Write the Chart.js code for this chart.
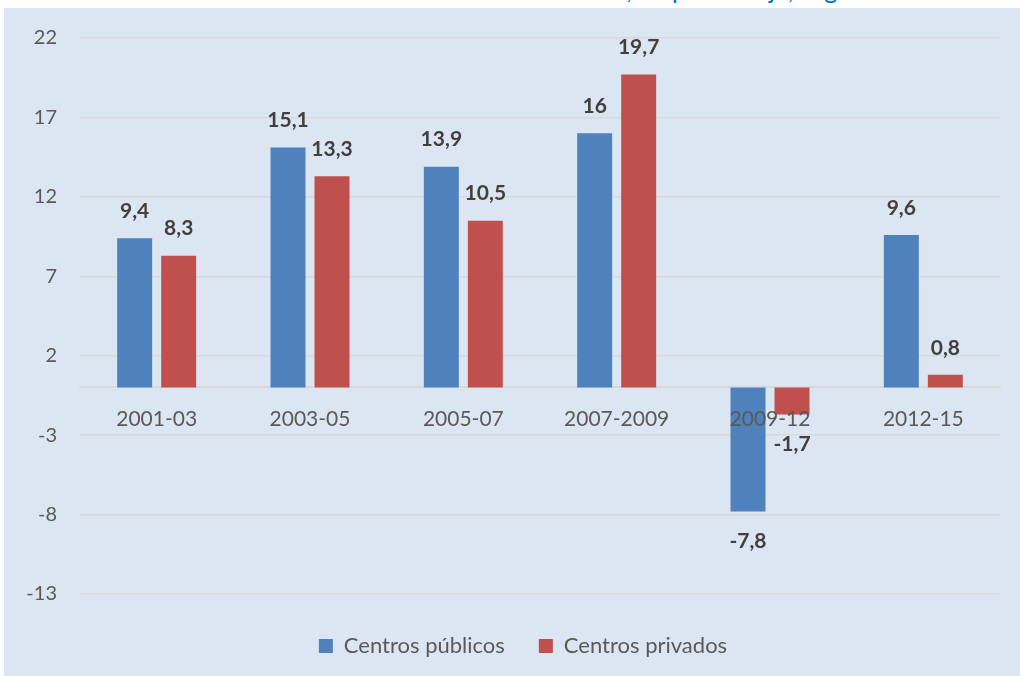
<!DOCTYPE html>
<html>
<head>
<meta charset="utf-8">
<script src="https://cdn.jsdelivr.net/npm/chart.js@4"></script>
<style>
  body { margin: 0; background: #ffffff; width: 1020px; height: 676px; overflow: hidden; position: relative; }
  #title { position: absolute; left: 0; top: 0; width: 1020px; height: 8px; overflow: hidden; }
  #title span { position: absolute; left: 2px; top: -24px; white-space: nowrap; font-family: Lato, "Open Sans", sans-serif; font-size: 25px; color: #0070C0; line-height: 26px; }
  #panel { position: absolute; left: 4px; top: 8px; width: 1016px; height: 668px; background: #DCE6F2; overflow: hidden; }
  #chart { position: absolute; left: 0; top: -5px; }
</style>
</head>
<body>
<div id="title"><span>Tasa de crecimiento del número de alumnos matriculados, en porcentaje, según titularidad del centro</span></div>
<div id="panel"><canvas id="chart" width="1016" height="657"></canvas></div>
<script>
// data
const periods = ['2001-03', '2003-05', '2005-07', '2007-2009', '2009-12', '2012-15'];
const publicos = [9.4, 15.1, 13.9, 16, -7.8, 9.6];
const privados = [8.3, 13.3, 10.5, 19.7, -1.7, 0.8];
const yMin = -13;
const yMax = 22;
const yStep = 5;

const FONT = 'Lato, "Open Sans", sans-serif';

// draw value labels above (or below) each bar, comma as decimal mark
const barLabels = {
    id: 'barLabels',
    afterDatasetsDraw(chart) {
        const ctx = chart.ctx;
        ctx.save();
        ctx.font = 'bold 21px ' + FONT;
        ctx.fillStyle = '#404040';
        ctx.textAlign = 'center';
        ctx.textBaseline = 'middle';
        chart.data.datasets.forEach((ds, i) => {
            chart.getDatasetMeta(i).data.forEach((bar, j) => {
                const v = ds.data[j];
                const y = v >= 0 ? bar.y - 27 : bar.y + 30;
                ctx.fillText(String(v).replace('.', ','), bar.x, y);
            });
        });
        ctx.restore();
    }
};

// legend sits lower and a bit right of where chart.js puts it
const legendShift = {
    id: 'legendShift',
    afterLayout(chart) {
        chart.legend.top += 7;
        chart.legend.left += 21;
        chart.legend.right += 21;
    }
};

new Chart(document.getElementById('chart'), {
    type: 'bar',
    data: {
        labels: periods,
        datasets: [{
            label: 'Centros públicos',
            data: publicos,
            backgroundColor: '#4F81BD',
            borderWidth: 0
        }, {
            label: 'Centros privados',
            data: privados,
            backgroundColor: '#C0504D',
            borderWidth: 0
        }]
    },
    options: {
        responsive: false,
        animation: false,
        categoryPercentage: 0.574,
        barPercentage: 0.795,
        layout: {
            padding: { top: 24, right: 20, bottom: 0, left: 0 }
        },
        plugins: {
            legend: {
                position: 'bottom',
                labels: {
                    boxWidth: 14,
                    boxHeight: 14,
                    padding: 34,
                    color: '#595959',
                    font: { family: FONT, size: 22 }
                }
            },
            tooltip: { enabled: false }
        },
        scales: {
            x: {
                position: { y: 0 },
                grid: { display: false, drawTicks: false },
                border: { color: '#D9D9D9', width: 2 },
                ticks: {
                    z: 1, // category labels go over the bars, like the original
                    padding: 19,
                    color: '#595959',
                    font: { family: FONT, size: 21 }
                }
            },
            y: {
                min: yMin,
                max: yMax,
                afterFit(scale) { scale.width = 76; },
                grid: { color: '#D9D9D9', lineWidth: 1.5, drawTicks: false },
                border: { display: false },
                ticks: {
                    stepSize: yStep,
                    padding: 23,
                    color: '#595959',
                    font: { family: FONT, size: 20 }
                }
            }
        }
    },
    plugins: [barLabels, legendShift]
});
</script>
</body>
</html>
